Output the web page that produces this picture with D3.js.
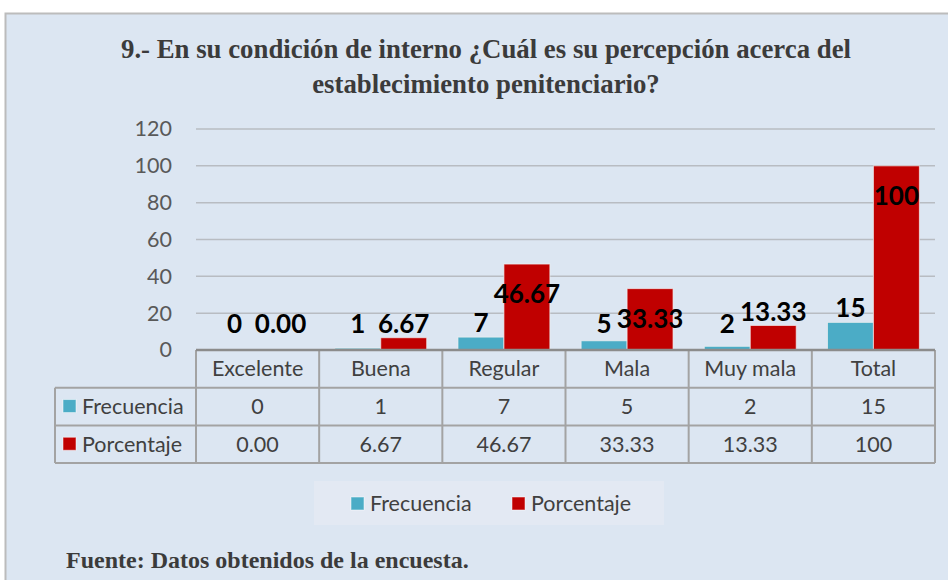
<!DOCTYPE html>
<html>
<head>
<meta charset="utf-8">
<script src="https://cdn.jsdelivr.net/npm/d3@7"></script>
<style>
  body { margin: 0; background: #fff; }
  svg { display: block; }
</style>
</head>
<body>
<svg id="chart" width="948" height="580"></svg>
<script>
// datos de la pregunta 9
var categorias = ["Excelente", "Buena", "Regular", "Mala", "Muy mala", "Total"];
var series = ["Frecuencia", "Porcentaje"];
var frecuencia = [0, 1, 7, 5, 2, 15];
var porcentaje = [0, 6.67, 46.67, 33.33, 13.33, 100];
var frecTexto = ["0", "1", "7", "5", "2", "15"];
var porcTexto = ["0.00", "6.67", "46.67", "33.33", "13.33", "100"];
var yTicks = [0, 20, 40, 60, 80, 100, 120];
var colores = ["#4bacc6", "#c00000"];

(function() {
var valores = [frecuencia, porcentaje];
var textos = [frecTexto, porcTexto];

var svg = d3.select("#chart"),
    bg = "#dce6f2",
    sans = "Lato, 'Open Sans', sans-serif",
    serif = "'Liberation Serif', 'Times New Roman', serif",
    pLeft = 196, pRight = 935, pTop = 129, pBottom = 350,
    rowH = 37.7;

// marco
svg.append("rect")
    .attr("x", 5.5).attr("y", 13.5)
    .attr("width", 1000).attr("height", 700)
    .attr("fill", bg).attr("stroke", "#bcbcbc").attr("stroke-width", 2);

// titulo
var titulo = svg.append("text")
    .attr("text-anchor", "middle")
    .attr("font-family", serif).attr("font-weight", "bold")
    .attr("font-size", 26.8).attr("fill", "#3b3b3b");
titulo.append("tspan").attr("x", 486).attr("y", 58)
    .text("9.- En su condición de interno ¿Cuál es su percepción acerca del");
titulo.append("tspan").attr("x", 486).attr("y", 93)
    .text("establecimiento penitenciario?");

var x = d3.scaleBand().domain(categorias).range([pLeft, pRight]).padding(0);
var x1 = d3.scaleBand().domain(series).range([0, x.bandwidth()])
    .paddingInner(0).paddingOuter(0.34);
var y = d3.scaleLinear().domain([0, 120]).range([pBottom, pTop]);

// rejilla
svg.append("g").selectAll("line")
    .data(yTicks.slice(1))
    .enter().append("line")
      .attr("x1", pLeft).attr("x2", pRight)
      .attr("y1", function(d) { return y(d); })
      .attr("y2", function(d) { return y(d); })
      .attr("stroke", "#b8bcc2").attr("stroke-width", 1.5);

var yAxis = svg.append("g")
    .attr("transform", "translate(" + pLeft + ",0)")
    .call(d3.axisLeft(y).tickValues(yTicks).tickSize(0).tickPadding(24));
yAxis.select(".domain").remove();
yAxis.selectAll("text")
    .attr("font-family", sans).attr("font-size", 21.5).attr("fill", "#595959");

// barras
var grupos = svg.append("g").selectAll("g")
    .data(series)
    .enter().append("g")
      .attr("fill", function(d, i) { return colores[i]; });

grupos.selectAll("rect")
    .data(function(s, i) {
      return categorias.map(function(c, j) { return {cat: c, serie: s, v: valores[i][j]}; });
    })
    .enter().append("rect")
      .attr("x", function(d) { return x(d.cat) + x1(d.serie); })
      .attr("y", function(d) { return y(d.v); })
      .attr("width", x1.bandwidth())
      .attr("height", function(d) { return pBottom - y(d.v); })
      .attr("stroke", "#f2f2f2").attr("stroke-width", 1).attr("stroke-opacity", 0.7);

// etiquetas de datos
series.forEach(function(s, i) {
  svg.append("g").selectAll("text")
      .data(categorias)
      .enter().append("text")
        .attr("text-anchor", "middle")
        .attr("font-family", sans).attr("font-weight", "bold")
        .attr("font-size", 26).attr("fill", "#000")
        .attr("dy", "0.35em")
        .attr("x", function(c) { return x(c) + x1(s) + x1.bandwidth() / 2; })
        .attr("y", function(c, j) {
          var v = valores[i][j];
          if (v >= 20) return y(v) + 30;
          return Math.min(y(v) - 14, pBottom - 26);
        })
        .text(function(c, j) { return textos[i][j]; });
});

// tabla de datos
var tabla = svg.append("g");
var lineCol = "#a3a3a3";
var tTop = pBottom, tBottom = pBottom + 3 * rowH, legL = 55;

[1, 2, 3].forEach(function(r) {
  tabla.append("line")
      .attr("x1", r === 1 ? legL : legL).attr("x2", pRight)
      .attr("y1", tTop + r * rowH).attr("y2", tTop + r * rowH)
      .attr("stroke", lineCol).attr("stroke-width", 2);
});
var cortes = categorias.map(function(c) { return x(c); }).concat([pRight]);
tabla.selectAll(".v").data(cortes).enter().append("line")
    .attr("x1", function(d) { return d; }).attr("x2", function(d) { return d; })
    .attr("y1", tTop).attr("y2", tBottom)
    .attr("stroke", lineCol).attr("stroke-width", 2);
tabla.append("line").attr("x1", legL).attr("x2", legL)
    .attr("y1", tTop + rowH).attr("y2", tBottom)
    .attr("stroke", lineCol).attr("stroke-width", 2);
tabla.append("line").attr("x1", pLeft).attr("x2", pRight)
    .attr("y1", pBottom).attr("y2", pBottom)
    .attr("stroke", "#8c8c8c").attr("stroke-width", 2.5);

// encabezados
tabla.selectAll(".h").data(categorias).enter().append("text")
    .attr("x", function(c) { return x(c) + x.bandwidth() / 2; })
    .attr("y", tTop + rowH / 2).attr("dy", "0.35em")
    .attr("text-anchor", "middle")
    .attr("font-family", sans).attr("font-size", 21.5).attr("fill", "#404040")
    .text(function(c) { return c; });

series.forEach(function(s, i) {
  var cy = tTop + (i + 1.5) * rowH;
  tabla.append("rect")
      .attr("x", 63).attr("y", cy - 7).attr("width", 13).attr("height", 13)
      .attr("fill", colores[i]).attr("stroke", "#ffffff").attr("stroke-opacity", 0.5);
  tabla.append("text")
      .attr("x", 82).attr("y", cy).attr("dy", "0.35em")
      .attr("font-family", sans).attr("font-size", 21.5).attr("fill", "#404040")
      .text(s);
  tabla.append("g").selectAll("text").data(categorias).enter().append("text")
      .attr("x", function(c) { return x(c) + x.bandwidth() / 2; })
      .attr("y", cy).attr("dy", "0.35em")
      .attr("text-anchor", "middle")
      .attr("font-family", sans).attr("font-size", 21.5).attr("fill", "#404040")
      .text(function(c, j) { return textos[i][j]; });
});

// leyenda
var ley = svg.append("g");
ley.append("rect").attr("x", 314).attr("y", 481).attr("width", 350).attr("height", 44)
    .attr("fill", "#e3e9f3");
var leyX = [351, 512];
series.forEach(function(s, i) {
  ley.append("rect")
      .attr("x", leyX[i]).attr("y", 497).attr("width", 13).attr("height", 13)
      .attr("fill", colores[i]).attr("stroke", "#ffffff").attr("stroke-opacity", 0.5);
  ley.append("text")
      .attr("x", leyX[i] + 19).attr("y", 503).attr("dy", "0.35em")
      .attr("font-family", sans).attr("font-size", 21.5).attr("fill", "#404040")
      .text(s);
});

// fuente
svg.append("text")
    .attr("x", 66).attr("y", 568)
    .attr("font-family", serif).attr("font-weight", "bold")
    .attr("font-size", 24).attr("fill", "#3b3b3b")
    .text("Fuente: Datos obtenidos de la encuesta.");
})();
</script>
</body>
</html>
